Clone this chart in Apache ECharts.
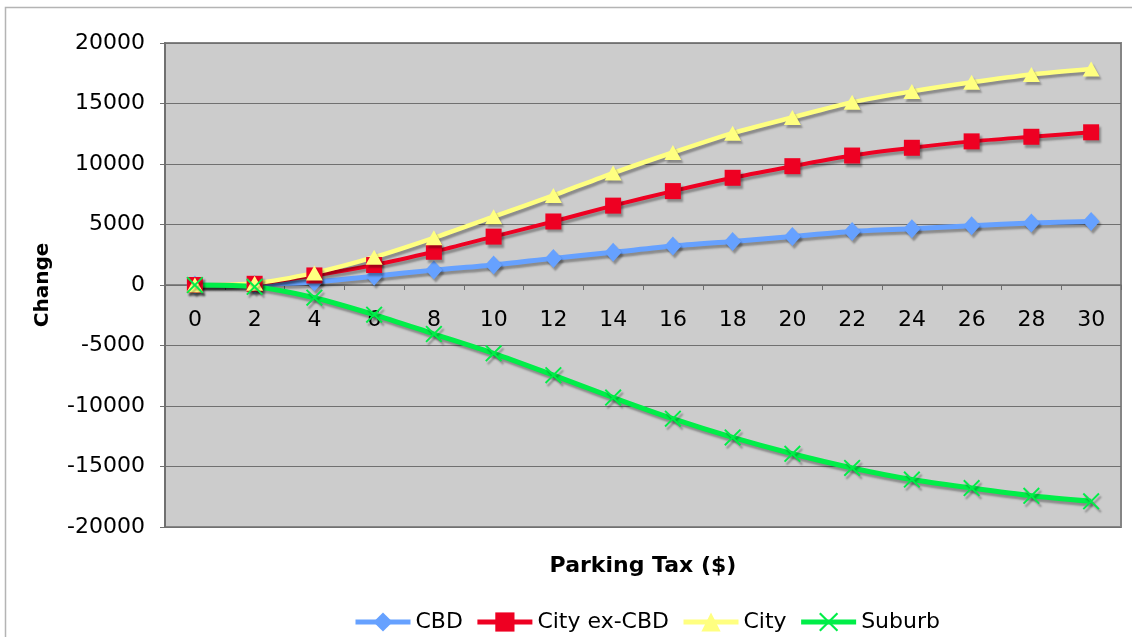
<!DOCTYPE html>
<html>
<head>
<meta charset="utf-8">
<title>Parking Tax</title>
<script src="https://cdn.jsdelivr.net/npm/echarts@6/dist/echarts.min.js"></script>
<style>
  html, body { margin: 0; padding: 0; background: #ffffff; }
  #chart { width: 1132px; height: 637px; }
</style>
</head>
<body>
<div id="chart"></div>
<script>
// Parking tax levels ($)
const taxLevels = ['0', '2', '4', '6', '8', '10', '12', '14', '16', '18', '20', '22', '24', '26', '28', '30'];

// Change in trips by area
const cbd       = [0, 50, 250, 730, 1230, 1650, 2200, 2700, 3220, 3600, 4010, 4420, 4650, 4900, 5120, 5250];
const cityExCbd = [0, 100, 790, 1650, 2750, 4000, 5250, 6560, 7760, 8860, 9820, 10700, 11340, 11870, 12250, 12620];
const city      = [0, 150, 1000, 2300, 3900, 5650, 7400, 9250, 10950, 12550, 13850, 15100, 16000, 16750, 17400, 17850];
const suburb    = [0, -150, -1050, -2450, -4050, -5650, -7450, -9300, -11050, -12600, -13950, -15120, -16080, -16780, -17420, -17880];

const seriesNames = ['CBD', 'City ex-CBD', 'City', 'Suburb'];
const yTicks = { min: -20000, max: 20000, step: 5000 };

const FONT = '"DejaVu Sans", Verdana, sans-serif';

// plot box
const GRID = { left: 165, right: 11, top: 43, bottom: 110 };
const CHART_H = 637;
// distance from the plot bottom up to the zero line, so the category axis sits on y = 0
const plotH = CHART_H - GRID.top - GRID.bottom;
const zeroLift = plotH * (0 - yTicks.min) / (yTicks.max - yTicks.min);

// thin "x" cross marker
const crossPath = 'path://M0,1.6 L1.6,0 L10,8.4 L18.4,0 L20,1.6 L11.6,10 L20,18.4 L18.4,20 L10,11.6 L1.6,20 L0,18.4 L8.4,10 Z';

const shadow = {
  shadowColor: 'rgba(0,0,0,0.32)',
  shadowBlur: 2,
  shadowOffsetX: 2,
  shadowOffsetY: 3
};

function makeSeries(name, data, color, symbol, size, width) {
  return {
    name: name,
    type: 'line',
    data: data,
    symbol: symbol,
    symbolSize: size,
    showAllSymbol: true,
    smooth: 0.25,
    lineStyle: Object.assign({ color: color, width: width }, shadow),
    itemStyle: Object.assign({ color: color }, shadow),
    emphasis: { disabled: true },
    animation: false
  };
}

const chart = echarts.init(document.getElementById('chart'), null, { renderer: 'canvas' });

chart.setOption({
  backgroundColor: '#ffffff',
  animation: false,
  textStyle: { fontFamily: FONT },
  graphic: [{
    type: 'rect',
    shape: { x: 5.5, y: 7.5, width: 1150, height: 660 },
    style: { fill: 'none', stroke: '#b4b4b4', lineWidth: 1.5 },
    silent: true
  }],
  grid: {
    left: GRID.left,
    right: GRID.right,
    top: GRID.top,
    bottom: GRID.bottom,
    containLabel: false,
    outerBoundsMode: 'none',
    show: true,
    backgroundColor: '#cccccc',
    borderColor: '#858585',
    borderWidth: 2
  },
  legend: {
    data: seriesNames,
    left: 348,
    top: 606,
    itemWidth: 55,
    itemHeight: 24,
    itemGap: 12,
    textStyle: { fontFamily: FONT, fontSize: 22, color: '#000' },
    itemStyle: { shadowBlur: 0, shadowOffsetX: 0, shadowOffsetY: 0, shadowColor: 'rgba(0,0,0,0)' },
    lineStyle: { width: 5, shadowBlur: 0, shadowOffsetX: 0, shadowOffsetY: 0, shadowColor: 'rgba(0,0,0,0)' }
  },
  xAxis: {
    type: 'category',
    data: taxLevels,
    boundaryGap: true,
    position: 'bottom',
    offset: -zeroLift,
    name: 'Parking Tax ($)',
    nameLocation: 'middle',
    nameGap: 270,
    nameTextStyle: { fontFamily: FONT, fontSize: 22, fontWeight: 'bold', color: '#000' },
    axisLine: { onZero: false, lineStyle: { color: '#6e6e6e', width: 1.5 } },
    axisTick: { show: true, inside: false, length: 5, interval: 0, lineStyle: { color: '#6e6e6e' } },
    axisLabel: { interval: 0, margin: 24, fontFamily: FONT, fontSize: 22, color: '#000' },
    splitLine: { show: false }
  },
  yAxis: {
    type: 'value',
    min: yTicks.min,
    max: yTicks.max,
    interval: yTicks.step,
    name: 'Change',
    nameLocation: 'middle',
    nameGap: 112,
    nameRotate: 90,
    nameTextStyle: { fontFamily: FONT, fontSize: 20, fontWeight: 'bold', color: '#000' },
    axisLine: { show: true, lineStyle: { color: '#707070', width: 2 } },
    axisTick: { show: true, inside: false, length: 5, lineStyle: { color: '#707070' } },
    axisLabel: {
      margin: 20, fontFamily: FONT, fontSize: 22, color: '#000',
      formatter: function (v) { return String(v); }
    },
    splitLine: { show: true, lineStyle: { color: '#707070', width: 1.2 } }
  },
  series: [
    makeSeries('CBD', cbd, '#66a1ff', 'diamond', [17, 19], 5),
    makeSeries('City ex-CBD', cityExCbd, '#ee0022', 'rect', 16, 4),
    makeSeries('City', city, '#ffff80', 'triangle', [17, 15], 4.5),
    makeSeries('Suburb', suburb, '#00ee48', crossPath, 17, 5)
  ]
});
</script>
</body>
</html>
